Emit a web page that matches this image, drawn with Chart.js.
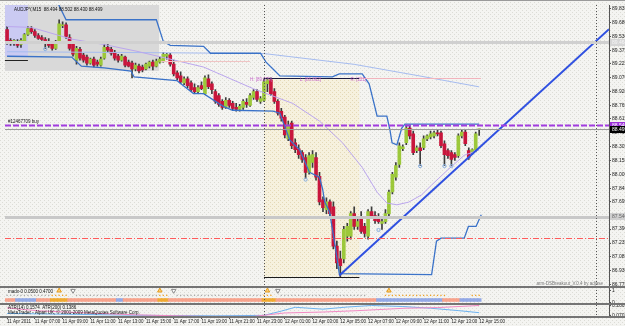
<!DOCTYPE html>
<html>
<head>
  <meta charset="utf-8">
  <title>AUDJPY M15</title>
  <style>
    html, body { margin: 0; padding: 0; background: #f2f2ee; overflow: hidden; }
    #chart { display: block; }
  </style>
</head>
<body>
  <canvas id="chart" width="625" height="326"></canvas>

  <script src="https://cdn.jsdelivr.net/npm/chart.js@4.4.1/dist/chart.umd.min.js"></script>
  <script>
    // AUDJPY M15 candles, bar 0 = 11 Apr 05:00
    const openP = [89.606, 89.486, 89.453, 89.475, 89.442, 89.475, 89.551, 89.617, 89.584, 89.540,
      89.518, 89.496, 89.475, 89.442, 89.398, 89.464, 89.649, 89.660, 89.518, 89.442,
      89.267, 89.387, 89.322, 89.300, 89.234, 89.278, 89.245, 89.212, 89.289, 89.409,
      89.387, 89.354, 89.311, 89.267, 89.300, 89.245, 89.234, 89.169, 89.201, 89.190,
      89.169, 89.201, 89.245, 89.201, 89.245, 89.256, 89.311, 89.322, 89.223, 89.125,
      89.092, 89.015, 89.059, 89.015, 88.961, 88.917, 88.983, 88.895, 89.059, 89.004,
      88.917, 88.873, 88.808, 88.742, 88.819, 88.786, 88.742, 88.720, 88.742, 88.797,
      88.764, 88.852, 88.917, 88.808, 88.819, 89.004, 89.048, 88.917, 88.808, 88.699,
      88.633, 88.393, 88.567, 88.349, 88.283, 88.239, 88.185, 88.021, 88.130, 88.185,
      87.977, 87.715, 87.606, 87.693, 87.638, 87.201, 87.059, 87.059, 87.311, 87.311,
      87.562, 87.420, 87.529, 87.420, 87.311, 87.584, 87.540, 87.518, 87.453, 87.474,
      87.562, 87.802, 87.966, 88.108, 88.283, 88.349, 88.513, 88.447, 88.261, 88.294,
      88.294, 88.393, 88.414, 88.425, 88.458, 88.458, 88.338, 88.261, 88.239, 88.218,
      88.207, 88.425, 88.469, 88.261, 88.239, 88.272, 88.494];
    const highP = [89.639, 89.507, 89.496, 89.496, 89.507, 89.562, 89.639, 89.639, 89.606, 89.562,
      89.540, 89.518, 89.507, 89.475, 89.486, 89.715, 89.693, 89.682, 89.551, 89.475,
      89.420, 89.409, 89.343, 89.322, 89.289, 89.300, 89.267, 89.300, 89.442, 89.442,
      89.409, 89.376, 89.332, 89.332, 89.311, 89.267, 89.256, 89.234, 89.223, 89.212,
      89.234, 89.256, 89.267, 89.278, 89.300, 89.354, 89.343, 89.343, 89.267, 89.147,
      89.136, 89.081, 89.081, 89.037, 89.004, 88.983, 89.026, 89.092, 89.103, 89.026,
      88.939, 88.895, 88.830, 88.852, 88.841, 88.808, 88.786, 88.775, 88.830, 88.841,
      88.895, 88.939, 88.939, 88.862, 89.059, 89.070, 89.070, 88.950, 88.830, 88.731,
      88.655, 88.589, 88.589, 88.393, 88.327, 88.261, 88.218, 88.239, 88.261, 88.239,
      88.021, 87.748, 87.737, 87.715, 87.693, 87.256, 87.147, 87.420, 87.453, 87.584,
      87.638, 87.518, 87.584, 87.453, 87.606, 87.638, 87.584, 87.562, 87.518, 87.606,
      87.824, 88.021, 88.130, 88.349, 88.327, 88.546, 88.546, 88.480, 88.316, 88.349,
      88.425, 88.436, 88.480, 88.480, 88.491, 88.480, 88.371, 88.283, 88.261, 88.239,
      88.447, 88.491, 88.491, 88.294, 88.283, 88.469, 88.502];
    const lowP = [89.442, 89.431, 89.431, 89.409, 89.409, 89.464, 89.540, 89.562, 89.518, 89.496,
      89.486, 89.398, 89.409, 89.376, 89.387, 89.453, 89.628, 89.507, 89.376, 89.311,
      89.223, 89.267, 89.245, 89.212, 89.223, 89.190, 89.201, 89.201, 89.278, 89.354,
      89.322, 89.267, 89.245, 89.256, 89.190, 89.190, 89.070, 89.147, 89.125, 89.136,
      89.158, 89.179, 89.158, 89.190, 89.234, 89.245, 89.278, 89.201, 89.092, 89.048,
      89.004, 88.994, 88.961, 88.917, 88.895, 88.895, 88.939, 88.884, 88.950, 88.895,
      88.786, 88.753, 88.720, 88.731, 88.742, 88.709, 88.699, 88.699, 88.720, 88.742,
      88.753, 88.830, 88.808, 88.786, 88.808, 88.917, 88.873, 88.786, 88.655, 88.589,
      88.403, 88.371, 88.283, 88.239, 88.174, 88.130, 87.955, 87.999, 88.076, 87.934,
      87.660, 87.584, 87.562, 87.529, 87.169, 86.950, 86.862, 87.015, 87.256, 87.278,
      87.387, 87.387, 87.343, 87.300, 87.278, 87.518, 87.453, 87.453, 87.387, 87.453,
      87.540, 87.780, 87.934, 88.076, 88.261, 88.327, 88.393, 88.218, 88.239, 88.097,
      88.272, 88.371, 88.393, 88.403, 88.425, 88.294, 88.097, 88.174, 88.097, 88.152,
      88.185, 88.403, 88.316, 88.163, 88.218, 88.250, 88.430];
    const closeP = [89.464, 89.453, 89.486, 89.431, 89.486, 89.551, 89.617, 89.584, 89.540, 89.507,
      89.496, 89.464, 89.431, 89.398, 89.464, 89.671, 89.660, 89.529, 89.398, 89.332,
      89.398, 89.289, 89.267, 89.234, 89.278, 89.212, 89.223, 89.278, 89.409, 89.376,
      89.343, 89.289, 89.267, 89.311, 89.212, 89.201, 89.169, 89.212, 89.147, 89.158,
      89.223, 89.245, 89.201, 89.256, 89.278, 89.332, 89.332, 89.223, 89.114, 89.070,
      89.026, 89.059, 88.983, 88.939, 88.917, 88.961, 88.950, 89.070, 88.972, 88.939,
      88.808, 88.775, 88.742, 88.819, 88.764, 88.731, 88.720, 88.753, 88.808, 88.775,
      88.873, 88.917, 88.830, 88.841, 89.026, 89.048, 88.895, 88.808, 88.677, 88.622,
      88.436, 88.546, 88.316, 88.272, 88.218, 88.163, 88.021, 88.207, 88.218, 87.966,
      87.693, 87.627, 87.693, 87.562, 87.201, 87.015, 86.983, 87.387, 87.420, 87.562,
      87.420, 87.474, 87.365, 87.343, 87.584, 87.529, 87.485, 87.474, 87.474, 87.562,
      87.802, 87.999, 88.097, 88.316, 88.305, 88.513, 88.425, 88.239, 88.294, 88.261,
      88.393, 88.425, 88.447, 88.458, 88.447, 88.316, 88.218, 88.207, 88.163, 88.185,
      88.425, 88.469, 88.338, 88.185, 88.272, 88.447, 88.499];

    // channel high / low (bar, price)
    const upperBandBars = [14, 17, 43, 45, 47, 56.6, 58.6, 73, 74.6, 76.6, 78.6, 93.7, 95.7, 102.3, 104.3, 105.7, 106.6, 109.4, 110.3, 110.9, 112.3, 113.7, 114.6, 136];
    const upperBand = [89.95, 89.715, 89.715, 89.475, 89.43, 89.42, 89.343, 89.343, 89.245, 89.168, 89.092, 89.08, 89.114, 89.114, 89.004, 88.786, 88.644, 88.644, 88.49, 88.349, 88.327, 88.513, 88.556, 88.556];
    const lowerBandBars = [0, 18.6, 21.4, 28, 35.7, 36.6, 48.9, 50.9, 53.7, 56.6, 62.3, 65, 76.6, 78.6, 81.4, 84.3, 87.1, 90, 90.9, 91.5, 92.9, 94.6, 95.7, 122.3, 123.7, 125, 131.7, 132.9, 135.1, 136.6];
    const lowerBand = [89.31, 89.30, 89.20, 89.18, 89.146, 89.08, 89.04, 88.98, 88.895, 88.895, 88.753, 88.71, 88.70, 88.677, 88.38, 88.27, 88.02, 87.966, 87.835, 87.693, 87.584, 87.18, 86.895, 86.884, 87.256, 87.289, 87.289, 87.42, 87.42, 87.55];

    // moving averages
    const fastMaBars = [0, 7, 18.6, 28, 37.4, 56.6, 70.9, 82.3, 90, 96.6, 102.3, 106.6, 109.4, 112.3, 115.7, 119.4, 122.3, 127, 131.7, 136];
    const fastMa = [89.64, 89.63, 89.50, 89.44, 89.365, 89.19, 88.95, 88.786, 88.59, 88.35, 88.075, 87.80, 87.68, 87.66, 87.69, 87.77, 87.88, 88.05, 88.21, 88.27];
    const slowMaBars = [0, 40, 74, 100, 119, 136];
    const slowMa = [89.36, 89.35, 89.34, 89.22, 89.09, 88.97];

    const swingBars = [11, 86, 107, 119, 126, 128];
    const swingLows = [89.39, 87.94, 87.38, 88.09, 88.09, 88.09];

    const trendFrom = [95.7, 86.874];
    const trendTo = [173.4, 89.61];

    // madx-0 sub window: state runs [state, bars]
    const madxDotRuns = [[1, 13], [2, 5], [0, 2], [1, 24], [2, 3], [0, 2], [1, 25], [2, 3], [0, 2], [1, 25], [0, 5], [2, 18], [0, 7], [2, 3]];
    const madxStripRuns = [[0, 3], [2, 6], [0, 4], [1, 5], [0, 14], [2, 2], [0, 10], [1, 3], [0, 27], [1, 4], [0, 29], [2, 19], [0, 5], [2, 6]];
    const upArrowBars = [15, 44, 75, 110];
    const downArrowBars = [19, 48, 78];

    // ATR sub window
    const atrFastBars = [0, 20, 40, 60, 74, 79, 83, 91, 98, 105, 114, 122, 130, 136];
    const atrFast = [0.115, 0.096, 0.077, 0.068, 0.077, 0.16, 0.235, 0.198, 0.24, 0.27, 0.25, 0.216, 0.17, 0.129];
    const atrSlowBars = [0, 9, 23, 37, 56.6, 71, 80, 91, 100, 114.6, 124, 136];
    const atrSlow = [0.222, 0.166, 0.124, 0.087, 0.056, 0.056, 0.124, 0.142, 0.166, 0.216, 0.229, 0.27];

    const priceTicks = [89.835, 89.680, 89.530, 89.375, 89.225, 89.070, 88.920, 88.765, 88.615, 88.460,
      88.305, 88.155, 88.000, 87.845, 87.695, 87.540, 87.390, 87.235, 87.085, 86.930, 86.775];
    const timeLabelBars = [0, 8, 16, 24, 32, 40, 48, 56, 64, 72, 80, 88, 96, 104, 112, 120, 128, 136];
    const timeLabels = ["11 Apr 2011", "11 Apr 07:00", "11 Apr 09:00", "11 Apr 11:00", "11 Apr 13:00", "11 Apr 15:00",
      "11 Apr 17:00", "11 Apr 19:00", "11 Apr 21:00", "11 Apr 23:00", "12 Apr 01:00", "12 Apr 03:00",
      "12 Apr 05:00", "12 Apr 07:00", "12 Apr 09:00", "12 Apr 11:00", "12 Apr 13:00", "12 Apr 15:00"];

    const separatorBars = [74, 169.7];
    const grayZone = {from: -1, to: 43.8, top: 90, bottom: 89.147};
    const lavZone = {from: -1, to: 6, top: 90, bottom: 89.311};
    const rangeBox = {from: 74, to: 101.5, high: 89.070, low: 86.862};
    const levels = [
      {price: 89.464, color: '#d0d0d0', width: 3},
      {price: 87.530, color: '#c8c8c8', width: 3},
      {price: 87.294, color: '#ff5a5a', width: 1, dash: [6, 2, 1, 2]},
      {price: 88.499, color: '#9a9a9a', width: 1},
      {price: 88.549, color: '#a23ce0', width: 2, dash: [6, 2]}
    ];
    const tags = [
      {price: 89.464, text: '89.464', bg: '#d6d6d6', fg: '#f6f6f6'},
      {price: 87.540, text: '87.540', bg: '#cfcfcf', fg: '#666'},
      {price: 88.549, text: '88.549', bg: '#9b30d9', fg: '#fff'},
      {price: 88.499, text: '88.499', bg: '#000', fg: '#fff'}
    ];

    const expand = runs => runs.flatMap(r => Array(r[1]).fill(r[0]));
    const madxDots = expand(madxDotRuns);
    const madxStrip = expand(madxStripRuns);
    const pairs = (xs, ys) => xs.map((b, i) => ({x: b, y: ys[i]}));

    Chart.defaults.font.family = '"Liberation Sans", Arial, sans-serif';

    function dotPattern(ctx, base, dot) {
      const c = document.createElement('canvas');
      c.width = 4; c.height = 4;
      const g = c.getContext('2d');
      g.fillStyle = base; g.fillRect(0, 0, 4, 4);
      g.fillStyle = dot; g.fillRect(0, 0, 1, 1); g.fillRect(2, 2, 1, 1);
      return ctx.createPattern(c, 'repeat');
    }

    const backdrop = {
      id: 'backdrop',
      beforeDraw(chart) {
        const ctx = chart.ctx;
        ctx.save();
        ctx.fillStyle = dotPattern(ctx, '#f4f4f1', '#dcdcd6');
        ctx.fillRect(0, 0, chart.width, chart.height);
        ctx.restore();
      },
      beforeDatasetsDraw(chart) {
        const {ctx, scales: {x, y}} = chart;
        const rect = (z, top, bottom) => [x.getPixelForValue(z.from), y.getPixelForValue(top),
          x.getPixelForValue(z.to) - x.getPixelForValue(z.from), y.getPixelForValue(bottom) - y.getPixelForValue(top)];
        ctx.save();
        ctx.beginPath();
        ctx.rect(x.left, y.top, x.right - x.left, y.bottom - y.top);
        ctx.clip();
        ctx.fillStyle = '#d9d9d9';
        ctx.fillRect(...rect(grayZone, grayZone.top, grayZone.bottom));
        ctx.fillStyle = '#cacaf2';
        ctx.fillRect(...rect(lavZone, lavZone.top, lavZone.bottom));
        ctx.fillStyle = dotPattern(ctx, '#f6f1de', '#e3d8b6');
        ctx.fillRect(...rect(rangeBox, rangeBox.high, rangeBox.low));
        ctx.restore();
      },
      afterDatasetsDraw(chart) {
        const {ctx, chartArea: a, scales: {x, y}} = chart;
        ctx.save();
        ctx.beginPath();
        ctx.rect(x.left, y.top, x.right - x.left, y.bottom - y.top);
        ctx.clip();
        levels.forEach(l => {
          const py = Math.round(y.getPixelForValue(l.price)) + 0.5;
          ctx.strokeStyle = l.color;
          ctx.lineWidth = l.width;
          ctx.setLineDash(l.dash || []);
          ctx.beginPath(); ctx.moveTo(x.left, py); ctx.lineTo(x.right, py); ctx.stroke();
        });
        ctx.setLineDash([]);
        const seg = (from, to, price, color) => {
          const py = Math.round(y.getPixelForValue(price)) + 0.5;
          ctx.strokeStyle = color; ctx.lineWidth = 1;
          ctx.beginPath(); ctx.moveTo(x.getPixelForValue(from), py); ctx.lineTo(x.getPixelForValue(to), py); ctx.stroke();
        };
        seg(rangeBox.from, rangeBox.to, rangeBox.high, '#1a1a40');
        seg(rangeBox.from, rangeBox.to, rangeBox.low, '#1a1a1a');
        seg(rangeBox.to, 136.5, rangeBox.high, '#f2b4bc');
        seg(44.3, 70, 89.256, '#f0c4c4');
        seg(-1, 6, 89.267, '#222');
        ctx.restore();

        // day separators over all panes
        ctx.save();
        ctx.strokeStyle = '#555';
        ctx.lineWidth = 1;
        ctx.setLineDash([1, 2]);
        separatorBars.forEach(b => {
          const px = Math.round(x.getPixelForValue(b)) + 0.5;
          ctx.beginPath(); ctx.moveTo(px, a.top); ctx.lineTo(px, a.bottom); ctx.stroke();
        });
        ctx.restore();
      },
      afterDraw(chart) {
        const {ctx, chartArea: a, scales: {x, y, y2, y3}} = chart;
        ctx.save();
        // pane borders
        ctx.fillStyle = '#9a9a9a';
        ctx.fillRect(0, 0, chart.width, 1);
        ctx.fillStyle = '#747474';
        [y2.top, y3.top, a.bottom].forEach(t => ctx.fillRect(0, Math.round(t) - 1, chart.width, 2));

        // price tags on the axis
        ctx.font = '5px "Liberation Sans", Arial, sans-serif';
        ctx.textBaseline = 'middle';
        ctx.textAlign = 'left';
        tags.forEach(t => {
          const py = Math.round(y.getPixelForValue(t.price));
          ctx.fillStyle = t.bg;
          ctx.fillRect(a.right + 1, py - 3, chart.width - a.right, 7);
          ctx.fillStyle = t.fg;
          ctx.fillText(t.text, a.right + 3, py + 0.5);
        });

        // chart texts
        ctx.font = '4.5px "Liberation Sans", Arial, sans-serif';
        ctx.fillStyle = '#111';
        ctx.fillText('AUDJPY,M15  88.494 88.502 88.430 88.499', a.left + 9, a.top + 4.5);
        ctx.fillText('#12467709 buy', a.left + 3, y.getPixelForValue(88.549) - 3);
        ctx.fillText('madx-0 0.0500 0.4700', a.left + 3, y2.top + 4);
        ctx.fillText('ATR(14) 0.1574  ATR(200) 0.1386', a.left + 3, y3.top + 3.5);
        ctx.fillText('MetaTrader - Alpari UK, \u00a9 2001-2009 MetaQuotes Software Corp.', a.left + 3, y3.top + 8.5);
        ctx.fillStyle = '#c86ccc';
        const hy = y.getPixelForValue(rangeBox.high) + 2;
        ctx.fillText('H: [89.070]', x.getPixelForValue(70), hy);
        ctx.fillText('L: [86.862]', x.getPixelForValue(84.3), hy);
        ctx.fillText('R: [221]', x.getPixelForValue(98.9), hy);
        ctx.fillStyle = '#7a7a7a';
        ctx.textAlign = 'right';
        ctx.fillText('arm-DSBreakout_V.0.4 by adjase', a.right - 6, y.bottom - 4);
        ctx.restore();
      }
    };

    const bull = '#9cc83a', bear = '#c8163c';
    const lineSet = (data, color, width, order) => ({
      type: 'line', yAxisID: 'y', data: data, borderColor: color, borderWidth: width,
      pointRadius: 0, tension: 0, order: order
    });

    new Chart("chart", {
      type: "bar",
      data: {
        datasets: [
          lineSet([{x: trendFrom[0], y: trendFrom[1]}, {x: trendTo[0], y: trendTo[1]}], '#2f50e0', 2, 0),
          lineSet(pairs(upperBandBars, upperBand), '#3a72c8', 1.3, 1),
          lineSet(pairs(lowerBandBars, lowerBand), '#3a72c8', 1.3, 1),
          lineSet(pairs(fastMaBars, fastMa), '#bba6ee', 1, 2),
          lineSet(pairs(slowMaBars, slowMa), '#a6bcf0', 1, 2),
          {
            type: 'scatter', yAxisID: 'y', order: 1,
            data: pairs(swingBars, swingLows),
            pointRadius: 1.6, borderColor: '#86aee0', borderWidth: 1, backgroundColor: 'rgba(0,0,0,0)'
          },
          {
            type: 'bar', yAxisID: 'y', order: 5, grouped: false,
            data: openP.map((o, i) => ({x: i, y: [o, closeP[i]]})),
            barThickness: 3, minBarLength: 1,
            backgroundColor: c => closeP[c.dataIndex] >= openP[c.dataIndex] ? bull : bear
          },
          {
            type: 'bar', yAxisID: 'y', order: 6, grouped: false,
            data: highP.map((h, i) => ({x: i, y: [lowP[i], h]})),
            barThickness: 1, backgroundColor: '#3c3c3c'
          },
          {
            type: 'bar', yAxisID: 'y2', order: 6, grouped: false,
            data: madxStrip.map((s, i) => ({x: i, y: [0.08, 0.32]})),
            barThickness: 4,
            backgroundColor: c => ['#f7a38c', '#f0aa30', '#93a9e6'][madxStrip[c.dataIndex]]
          },
          {
            type: 'scatter', yAxisID: 'y2', order: 3,
            data: madxDots.map((s, i) => ({x: i, y: s ? 0.58 : null})),
            pointStyle: 'rect', pointRadius: 0.9, borderWidth: 0,
            backgroundColor: c => madxDots[c.dataIndex] === 2 ? '#f0a020' : '#a9a9a9'
          },
          {
            type: 'scatter', yAxisID: 'y2', order: 3,
            data: upArrowBars.map(b => ({x: b, y: 0.98})),
            pointStyle: 'triangle', pointRadius: 2.6, borderWidth: 1,
            backgroundColor: '#fbd27a', borderColor: '#e39a1c'
          },
          {
            type: 'scatter', yAxisID: 'y2', order: 3,
            data: downArrowBars.map(b => ({x: b, y: 0.98})),
            pointStyle: 'triangle', rotation: 180, pointRadius: 2.6, borderWidth: 1,
            backgroundColor: '#fff', borderColor: '#8a8a8a'
          },
          {
            type: 'line', yAxisID: 'y3', order: 2, data: pairs(atrSlowBars, atrSlow),
            borderColor: '#f28ac4', borderWidth: 1, pointRadius: 0
          },
          {
            type: 'line', yAxisID: 'y3', order: 2, data: pairs(atrFastBars, atrFast),
            borderColor: '#6cb2f0', borderWidth: 1, pointRadius: 0
          }
        ]
      },
      options: {
        responsive: false,
        animation: false,
        events: [],
        layout: {padding: 0},
        plugins: {legend: {display: false}, tooltip: {enabled: false}},
        scales: {
          x: {
            type: 'linear', min: -0.6, max: 173.4, offset: false,
            grid: {drawOnChartArea: false, offset: false, tickLength: 2, color: '#555'},
            border: {color: '#666'},
            ticks: {
              font: {size: 4.5}, color: '#222', padding: 0, align: 'start',
              autoSkip: false, maxRotation: 0,
              callback: v => timeLabels[timeLabelBars.indexOf(v)]
            },
            afterBuildTicks: s => { s.ticks = timeLabelBars.map(v => ({value: v})); },
            afterFit: s => { s.height = 9; }
          },
          y: {
            type: 'linear', position: 'right', stack: 'panes', stackWeight: 287,
            min: 86.742, max: 89.879,
            grid: {drawOnChartArea: false, tickLength: 2, color: '#555'},
            border: {color: '#555'},
            ticks: {font: {size: 5}, color: '#222', padding: 1, autoSkip: false, callback: v => v.toFixed(3)},
            afterBuildTicks: s => { s.ticks = priceTicks.map(v => ({value: v})); },
            afterFit: s => { s.width = 16; s.paddingTop = 0; s.paddingBottom = 0; }
          },
          y2: {
            type: 'linear', position: 'right', stack: 'panes', stackWeight: 17,
            min: -0.15, max: 1.25,
            grid: {drawOnChartArea: false, tickLength: 2, color: '#555'},
            border: {color: '#555'},
            ticks: {font: {size: 5}, color: '#222', padding: 1, autoSkip: false},
            afterBuildTicks: s => { s.ticks = [{value: 1}, {value: 0}]; },
            afterFit: s => { s.width = 16; s.paddingTop = 0; s.paddingBottom = 0; }
          },
          y3: {
            type: 'linear', position: 'right', stack: 'panes', stackWeight: 13,
            min: 0.045, max: 0.295,
            grid: {drawOnChartArea: false, tickLength: 2, color: '#555'},
            border: {color: '#555'},
            ticks: {font: {size: 5}, color: '#222', padding: 1, autoSkip: false, callback: v => v.toFixed(4)},
            afterBuildTicks: s => { s.ticks = [{value: 0.2669}, {value: 0.0707}]; },
            afterFit: s => { s.width = 16; s.paddingTop = 0; s.paddingBottom = 0; }
          }
        }
      },
      plugins: [backdrop]
    });
  </script>
</body>
</html>
